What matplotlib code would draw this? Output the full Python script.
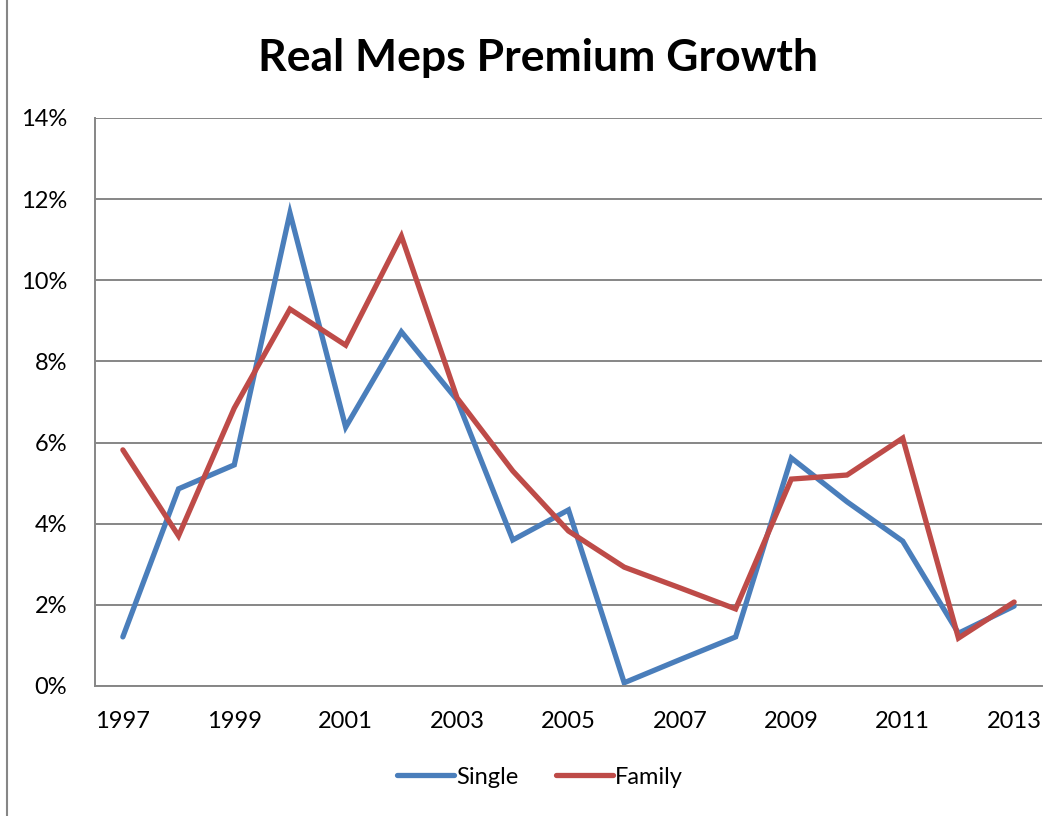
import matplotlib.pyplot as plt
from matplotlib.lines import Line2D
import numpy as np

years = list(range(1997, 2014))
single = [1.21, 4.86, 5.45, 11.66, 6.38, 8.73, 7.05, 3.60, 4.34, 0.08, 0.65, 1.21, 5.62, 4.54, 3.57, 1.30, 1.97]
family = [5.82, 3.70, 6.85, 9.29, 8.40, 11.09, 7.10, 5.30, 3.82, 2.93, 2.42, 1.90, 5.10, 5.20, 6.11, 1.18, 2.07]
yticks = [0, 2, 4, 6, 8, 10, 12, 14]

plt.rcParams['font.family'] = ['Lato', 'DejaVu Sans']

fig = plt.figure(figsize=(10.62, 8.16), dpi=100)
ax = fig.add_axes([95/1062, 130/816, 947/1062, 568/816])

x = np.arange(len(years))
ax.plot(x, single, color='#4A7EBB', lw=3.8, solid_joinstyle='miter', solid_capstyle='round', label='Single')
ax.plot(x, family, color='#BE4B48', lw=3.8, solid_joinstyle='miter', solid_capstyle='round', label='Family')

ax.set_xlim(-0.5, len(years) - 0.5)
ax.set_ylim(0, 14)
ax.set_yticks(yticks)
ax.set_yticklabels([f'{v}%' for v in yticks])
ax.set_xticks(x[::2])
ax.set_xticklabels([str(y) for y in years[::2]])
ax.tick_params(length=0, labelsize=17)
ax.tick_params(axis='x', pad=18)
ax.tick_params(axis='y', pad=20)
ax.grid(axis='y', color='#868686', lw=1.4)
ax.set_axisbelow(True)
for s in ['top', 'right']:
    ax.spines[s].set_visible(False)
for s in ['left', 'bottom']:
    ax.spines[s].set_color('#868686')
    ax.spines[s].set_linewidth(1.4)

fig.text(538/1062, 1 - 58/816, 'Real Meps Premium Growth', ha='center', va='center',
         fontsize=32, fontweight='bold')

ax.legend(loc='center', bbox_to_anchor=(540/1062, 1 - 777/816), bbox_transform=fig.transFigure,
          ncol=2, frameon=False, fontsize=17, handlelength=2.4, handletextpad=0.1,
          columnspacing=1.6)

fig.add_artist(Line2D([7/1062, 7/1062], [0, 1], color='#868686', lw=1.5))

fig.savefig('out.png', dpi=100)
